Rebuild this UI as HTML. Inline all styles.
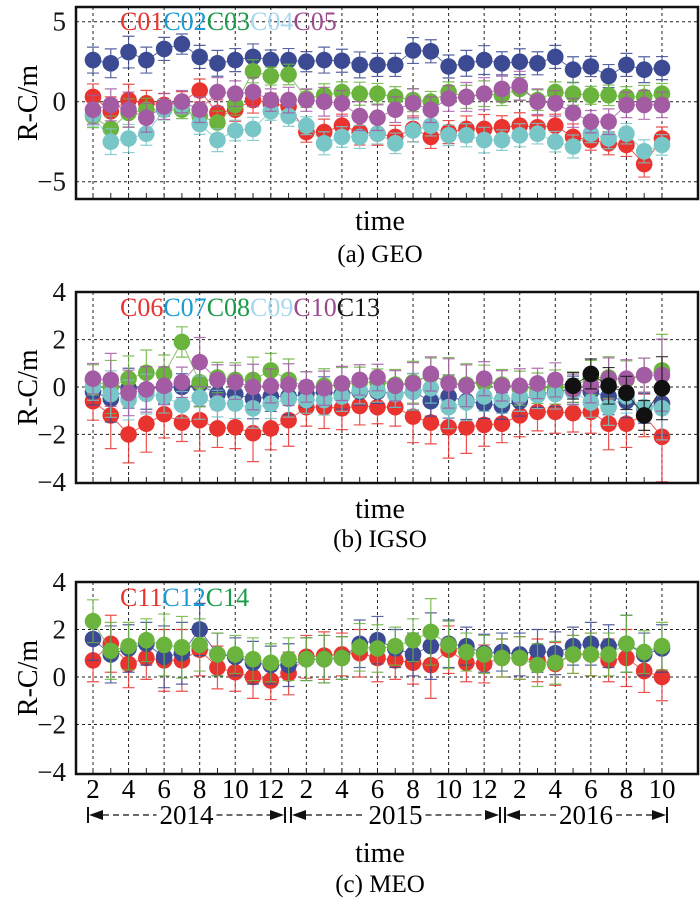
<!DOCTYPE html>
<html><head><meta charset="utf-8"><style>
html,body{margin:0;padding:0;background:#fff}
svg{display:block}
svg text{font-family:"Liberation Serif","DejaVu Serif",serif}
</style></head><body>
<svg id="chart" width="700" height="906" viewBox="0 0 700 906" font-family="'Liberation Serif', serif" xmlns="http://www.w3.org/2000/svg"></svg>
<script>
// ---- shared data ----
const monthLabels = ["2","","4","","6","","8","","10","","12","","2","","4","","6","","8","","10","","12","","2","","4","","6","","8","","10"];
const years = ["2014","2015","2016"];
// ---- panel (a) GEO ----
const geoNames = ["C01","C02","C03","C04","C05"];
const geoC01 = [0.3,-0.6,0.1,-0.1,-0.2,0,0.7,-0.7,-0.5,0.1,-0.1,-0.3,-1.9,-1.9,-1.5,-1.9,-2.0,-2.2,-1.7,-2.2,-1.9,-1.7,-1.7,-1.6,-1.5,-1.6,-1.5,-2.2,-2.4,-2.6,-2.7,-3.9,-2.3];
const geoC02 = [2.6,2.4,3.1,2.6,3.3,3.6,2.8,2.4,2.6,2.8,2.6,2.6,2.5,2.6,2.56,2.3,2.3,2.3,3.2,3.15,2.2,2.4,2.6,2.4,2.5,2.4,2.8,2.0,2.2,1.6,2.3,2.0,2.1];
const geoC03 = [-0.9,-1.7,-0.7,-0.5,-0.5,-0.5,-0.9,-1.3,-0.2,1.9,1.6,1.7,0.2,0.4,0.6,0.5,0.5,0.3,0.1,0,0.6,0.3,0.5,0.4,0.8,0.1,0.6,0.5,0.4,0.4,0.3,0.3,0.5];
const geoC04 = [-0.8,-2.5,-2.3,-2.0,-0.5,-0.2,-1.4,-2.4,-1.8,-1.7,-0.6,-0.9,-1.5,-2.6,-2.2,-2.2,-2.0,-2.6,-1.8,-1.5,-2.1,-2.1,-2.4,-2.4,-2.1,-2.0,-2.5,-2.8,-2.0,-2.3,-2.0,-3.1,-2.7];
const geoC05 = [-0.5,-0.2,-0.5,-1.0,-0.3,0,-0.5,0.6,0.5,0.6,0.1,0.1,0.1,0,-0.1,-0.9,-1.0,-0.5,-0.1,-0.5,0.2,0.3,0.5,0.8,1.0,0,-0.1,-0.7,-1.25,-1.25,-0.2,-0.2,-0.2];
const geoErr = [0.9,1.0,1.1,0.9,0.8,0.7,0.8,0.9,0.8,0.9,0.7,0.8,0.7,0.9,0.8,0.9,0.8,0.8,0.9,0.8,0.8,0.9,1.0,0.8,0.9,0.8,0.8,0.9,0.7,0.8,0.8,0.9,0.8];
const geoTicks = [5,0,-5];
// ---- panel (b) IGSO ----
const igsoNames = ["C06","C07","C08","C09","C10","C13"];
const igsoC06 = [-0.6,-1.2,-2.0,-1.55,-1.15,-1.5,-1.4,-1.75,-1.7,-1.95,-1.75,-1.4,-0.85,-0.85,-0.9,-0.8,-0.85,-0.85,-1.25,-1.5,-1.7,-1.7,-1.6,-1.55,-1.2,-1.05,-1.05,-1.1,-1.05,-1.55,-1.55,-1.2,-2.1];
const igsoC07 = [-0.2,-0.5,-0.05,-0.1,0,0,0.1,-0.3,-0.3,-0.5,-0.4,-0.4,-0.3,-0.2,-0.3,-0.2,-0.2,-0.3,-0.2,-0.6,-0.4,-0.6,-0.7,-0.8,-0.6,-0.3,-0.2,-0.1,-0.2,-0.4,-0.6,-0.9,-0.7];
const igsoC08 = [0.3,0,0.35,0.6,0.55,1.9,0.2,0.4,0.3,0.3,0.7,0.3,0,0.05,0.1,0.2,0.2,0.1,0.2,0.5,0.2,0.1,0.2,0.1,-0.05,-0.05,0,0,0.4,0.4,0.3,0.5,0.7];
const igsoC09 = [0,-0.3,-0.55,-0.3,-0.4,-0.75,-0.45,-0.7,-0.7,-0.9,-0.7,-0.5,-0.55,-0.55,-0.4,-0.15,-0.15,-0.3,-0.2,-0.05,-0.85,-0.65,-0.4,-0.55,-0.4,-0.35,-0.3,-0.2,-0.65,-0.85,-0.4,-0.85,-0.9];
const igsoC10 = [0.35,0.3,-0.25,-0.1,0.05,0.2,1.05,0.3,0.2,0,0.05,0.1,0,-0.05,0.15,0.3,0.4,0.05,0.15,0.55,0.15,0.05,0.35,0.05,0.05,0.15,0.3,-0.1,0.05,0.35,0.35,0.5,0.5];
const igsoC13 = [null,null,null,null,null,null,null,null,null,null,null,null,null,null,null,null,null,null,null,null,null,null,null,null,null,null,null,0.05,0.55,0.05,-0.25,-1.2,-0.05];
const igsoErr = [0.8,1.4,1.2,1.2,1.0,0.8,1.3,0.8,0.9,1.2,0.9,1.1,0.8,0.9,0.9,0.8,0.7,0.8,1.1,0.9,1.3,1.1,0.9,0.8,0.9,0.8,0.9,0.8,0.9,1.1,1.0,0.9,1.9];
const igsoTicks = [4,2,0,-2,-4];
// ---- panel (c) MEO ----
const meoNames = ["C11","C12","C14"];
const meoC11 = [0.7,1.4,0.55,0.8,0.7,0.7,1.15,0.4,0.2,0,-0.15,0.15,0.85,0.9,0.95,1.0,0.8,0.7,0.6,0.5,1.15,0.6,0.55,0.8,0.8,0.7,0.55,0.95,0.95,0.7,0.8,0.25,0];
const meoC12 = [1.6,0.95,1.2,1.4,0.85,1.0,2.0,0.95,0.85,0.6,0.5,0.5,0.75,0.75,0.8,1.4,1.55,1.2,0.95,1.3,1.4,1.3,1.0,1.05,0.95,1.1,1.0,1.3,1.4,1.3,1.4,0.95,1.2];
const meoC14 = [2.35,1.1,1.3,1.55,1.35,1.25,1.35,0.95,0.95,0.75,0.6,0.75,0.75,0.75,0.8,1.25,1.2,1.3,1.55,1.9,1.35,1.05,0.95,0.8,0.8,0.5,0.6,0.95,0.95,0.95,1.4,1.05,1.3];
const meoErr = [0.9,1.2,1.0,0.9,1.3,1.3,1.1,0.9,0.8,0.9,0.8,0.9,0.9,1.0,0.9,1.0,1.0,0.8,0.9,1.4,1.0,0.8,0.8,0.8,0.9,0.9,0.9,0.8,0.9,0.9,1.2,0.9,1.0];
const meoTicks = [4,2,0,-2,-4];

const NS = "http://www.w3.org/2000/svg";
const FONT = "'Liberation Serif', 'DejaVu Serif', serif";
const svg = document.getElementById("chart");
function mk(tag, attrs, parent) {
  const e = document.createElementNS(NS, tag);
  for (const k in attrs) e.setAttribute(k, attrs[k]);
  if (tag === "text") e.setAttribute("font-family", FONT);
  (parent || svg).appendChild(e);
  return e;
}
const X0 = 76, X1 = 698;
function xScale(i) { return 93 + i * 17.78; }

function drawPanel(cfg) {
  const g = mk("g", {});
  
  
  const yScale = v => cfg.y0 - v * cfg.k;
  for (let i = 0; i < 33; i += 2) {
    const gl = mk("line", {x1: xScale(i), x2: xScale(i), y1: cfg.top, y2: cfg.bottom, stroke: "#222", "stroke-width": 1, "stroke-dasharray": "3,3"}, g);
    
    
  }
  for (const t of cfg.ticks) {
    const y = yScale(t);
    if (y > cfg.top + 2 && y < cfg.bottom - 2) {
      const hl = mk("line", {x1: X0, x2: X1, y1: y, y2: y, stroke: "#222", "stroke-width": 1, "stroke-dasharray": "3,3"}, g);
      
      
    }
    const tl = mk("text", {x: 66, y: y + 9, "text-anchor": "end", "font-size": 27, fill: "#111"}, g);
    tl.textContent = t < 0 ? "\u2212" + Math.abs(t) : String(t);
    
    
  }
  for (let i = 0; i < 33; i++) {
    const tk = mk("line", {x1: xScale(i), x2: xScale(i), y1: cfg.bottom, y2: cfg.bottom - 6, stroke: "#222", "stroke-width": 1}, g);
    
    
  }
  cfg.series.forEach((s, si) => {
    const sg = mk("g", {}, g);
    
    
    let d = "";
    s.vals.forEach((v, i) => {
      if (v === null) return;
      d += (d ? "L" : "M") + xScale(i).toFixed(1) + "," + yScale(v).toFixed(1);
    });
    const ln = mk("path", {d: d, fill: "none", stroke: s.color, "stroke-width": 1, opacity: 0.8}, sg);
    
    
    s.vals.forEach((v, i) => {
      if (v === null) return;
      const x = xScale(i), e = cfg.err[i] * s.ef;
      const ya = yScale(v + e), yb = yScale(v - e);
      const eb = mk("path", {d: `M${x},${ya}V${yb}M${x-6},${ya}H${x+6}M${x-6},${yb}H${x+6}`, stroke: s.color, "stroke-width": 1.2, fill: "none", opacity: 0.85}, sg);
      
      
    });
    s.vals.forEach((v, i) => {
      if (v === null) return;
      const c = mk("circle", {cx: xScale(i), cy: yScale(v), r: 8.3, fill: s.color}, sg);
      
      
    });
  });
  const fr = mk("rect", {x: X0, y: cfg.top, width: X1 - X0, height: cfg.bottom - cfg.top, fill: "none", stroke: "#111", "stroke-width": 2.5}, g);
  
  
  const lg = mk("text", {x: 120, y: cfg.legendY, "font-size": 26}, g);
  
  
  cfg.names.forEach((n, i) => {
    const ts = mk("tspan", {fill: cfg.legendColors[i]}, lg);
    ts.textContent = n;
    
    
  });
  const yl = mk("text", {x: 0, y: 0, "font-size": 28, "text-anchor": "middle", transform: `translate(37,${(cfg.top + cfg.bottom) / 2}) rotate(-90)`}, g);
  yl.textContent = "R-C/m";
  
  
  const tt = mk("text", {x: 380, y: cfg.timeY, "font-size": 28, "text-anchor": "middle"}, g);
  tt.textContent = "time";
  
  
  const cp = mk("text", {x: 380, y: cfg.capY, "font-size": 25, "text-anchor": "middle"}, g);
  cp.textContent = cfg.caption;
  
  
  return g;
}

const RED = "#e8332f", NAVY = "#3b4a92", GREEN = "#6ab43e", CYAN = "#78c6c7", PURPLE = "#a35ba3", BLACK = "#111";
drawPanel({name: "panel-geo", top: 7, bottom: 199, y0: 101.7, k: 16, ticks: geoTicks, err: geoErr,
  names: geoNames, legendColors: ["#e8332f", "#1a9bd7", "#1a9a4a", "#a8d8ee", "#9b4a8e"], legendY: 30,
  series: [{vals: geoC01, color: RED, ef: 0.9}, {vals: geoC02, color: NAVY, ef: 0.9}, {vals: geoC03, color: GREEN, ef: 0.8}, {vals: geoC04, color: CYAN, ef: 0.8}, {vals: geoC05, color: PURPLE, ef: 1.0}],
  timeY: 230, capY: 262, caption: "(a) GEO"});
drawPanel({name: "panel-igso", top: 292, bottom: 483, y0: 387, k: 23.7, ticks: igsoTicks, err: igsoErr,
  names: igsoNames, legendColors: ["#e8332f", "#1a9bd7", "#1a9a4a", "#a8d8ee", "#9b4a8e", "#111"], legendY: 316,
  series: [{vals: igsoC06, color: RED, ef: 1.0}, {vals: igsoC07, color: NAVY, ef: 0.7}, {vals: igsoC08, color: GREEN, ef: 0.8}, {vals: igsoC09, color: CYAN, ef: 0.7}, {vals: igsoC10, color: PURPLE, ef: 0.8}, {vals: igsoC13, color: BLACK, ef: 0.7}],
  timeY: 518, capY: 547, caption: "(b) IGSO"});
drawPanel({name: "panel-meo", top: 582, bottom: 774, y0: 677, k: 23.75, ticks: meoTicks, err: meoErr,
  names: meoNames, legendColors: ["#e8332f", "#1a9bd7", "#1a9a4a"], legendY: 606,
  series: [{vals: meoC11, color: RED, ef: 1.0}, {vals: meoC12, color: NAVY, ef: 1.0}, {vals: meoC14, color: GREEN, ef: 1.0}],
  timeY: 862, capY: 892, caption: "(c) MEO"});

monthLabels.forEach((m, i) => {
  if (!m) return;
  const t = mk("text", {x: xScale(i), y: 798, "font-size": 27, "text-anchor": "middle"});
  t.textContent = m;
  
  
});
const spans = [[88, 285], [291, 500], [505, 667]];
years.forEach((yr, k) => {
  const [a, b] = spans[k];
  const cy = 815, mid = (a + b) / 2;
  const g = mk("g", {});
  
  
  mk("line", {x1: a, x2: a, y1: cy - 8, y2: cy + 8, stroke: "#111", "stroke-width": 2}, g);
  mk("line", {x1: b, x2: b, y1: cy - 8, y2: cy + 8, stroke: "#111", "stroke-width": 2}, g);
  mk("path", {d: `M${a+1},${cy}l14,-5v10z`, fill: "#111"}, g);
  mk("path", {d: `M${b-1},${cy}l-14,-5v10z`, fill: "#111"}, g);
  mk("line", {x1: a + 15, x2: mid - 30, y1: cy, y2: cy, stroke: "#111", "stroke-width": 1.3, "stroke-dasharray": "6,4"}, g);
  mk("line", {x1: mid + 30, x2: b - 15, y1: cy, y2: cy, stroke: "#111", "stroke-width": 1.3, "stroke-dasharray": "6,4"}, g);
  const t = mk("text", {x: mid, y: cy + 9, "font-size": 27, "text-anchor": "middle"}, g);
  t.textContent = yr;
  
  
});
</script>
</body></html>
